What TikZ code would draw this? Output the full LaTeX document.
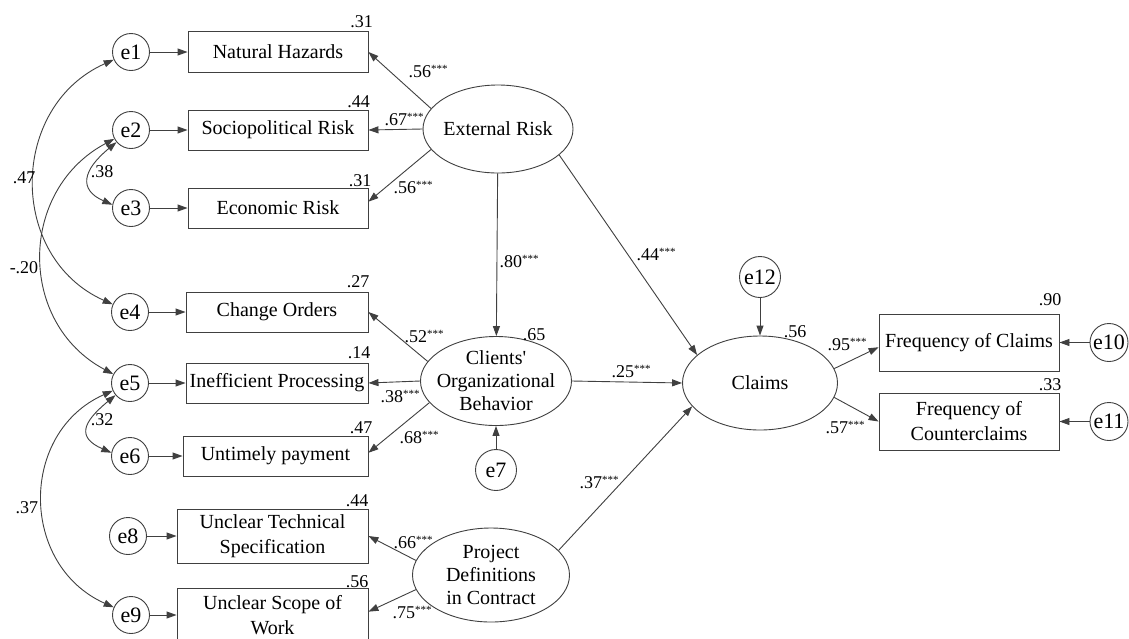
\documentclass[tikz,border=0pt]{standalone}
\usepackage{fontspec}
\setmainfont{Liberation Serif}
\newfontfamily\plainrm{Liberation Serif}[Ligatures=ResetAll]
\usetikzlibrary{shapes.geometric,arrows.meta}
\newcommand\txtf{\fontsize{20}{25}\selectfont}
\newcommand\latf{\fontsize{20}{23}\selectfont}
\newcommand\numf{\fontsize{18}{20}\selectfont}
\newcommand\errf{\fontsize{22}{24}\selectfont}
\newcommand\sg{\raisebox{4.5pt}{\fontsize{11}{11}\selectfont ***}}
\begin{document}
\begin{tikzpicture}[x=1pt,y=-1pt,
  ln/.style={draw=black!75, line width=0.9pt},
  arr/.style={ln, -{Triangle[length=10pt,width=7pt]}},
  cov/.style={ln, {Triangle[length=10pt,width=7pt]}-{Triangle[length=10pt,width=7pt]}},
  obs/.style={draw=black!75, line width=0.9pt, rectangle, inner sep=0pt, align=center, font=\txtf},
  lat/.style={draw=black!75, line width=0.9pt, ellipse, inner sep=0pt},
  lbl/.style={inner sep=0pt, align=center, font=\latf},
  err/.style={draw=black!75, line width=0.9pt, circle, inner sep=0pt, minimum size=37pt, font=\errf},
  errb/.style={err, minimum size=41pt},
  num/.style={inner sep=0pt, anchor=base, font=\numf}]
\useasboundingbox (0,0) rectangle (1129,638);
\fill[white] (0,0) rectangle (1129,638);

% observed boxes
\node[obs, minimum width=180pt, minimum height=41pt] (NH) at (278,52) {Natural Hazards};
\node[obs, minimum width=180pt, minimum height=40pt] (SR) at (278,130) {Sociopolitical Risk};
\node[obs, minimum width=180pt, minimum height=40pt] (EC) at (278,208) {Economic Risk};
\node[obs, minimum width=182pt, minimum height=40pt] (CO) at (277,312) {Change Orders};
\node[obs, minimum width=182pt, minimum height=40pt] (IP) at (277,383) {Inefficient Processing};
\node[obs, minimum width=185pt, minimum height=40pt] (UP) at (275.5,456) {Untimely payment};
\node[obs, minimum width=191pt, minimum height=54pt] (UT) at (272.5,536) {Unclear Technical\\Specification};
\node[obs, minimum width=191pt, minimum height=54pt] (US) at (272.5,615) {Unclear Scope of\\Work};
\node[obs, minimum width=180pt, minimum height=57pt] (FC) at (969,342.5) {Frequency of Claims};
\node[obs, minimum width=180pt, minimum height=57pt] (FCC) at (969,421.5) {Frequency of\\Counterclaims};

% latent ellipses
\node[lat, minimum width=150pt, minimum height=88pt] (ER) at (498,129) {};
\node[lbl] (ERt) at (ER) {External Risk};
\node[lat, minimum width=151pt, minimum height=89pt] (COB) at (496,381) {};
\node[lbl] (COBt) at (COB) {Clients{\plainrm '}\\Organizational\\Behavior};
\node[lat, minimum width=157pt, minimum height=94pt] (PD) at (491,575) {};
\node[lbl] (PDt) at (PD) {Project\\Definitions\\in Contract};
\node[lat, minimum width=155pt, minimum height=94pt] (CL) at (760,383) {};
\node[lbl] (CLt) at (CL) {Claims};

% error terms
\node[err] (e1) at (131,52) {e1};
\node[err] (e2) at (131,130) {e2};
\node[err] (e3) at (131,208) {e3};
\node[err] (e4) at (130,312) {e4};
\node[err] (e5) at (130,383) {e5};
\node[err] (e6) at (130,456) {e6};
\node[err] (e8) at (128,536) {e8};
\node[err] (e9) at (131,615) {e9};
\node[errb] (e7) at (496,470) {e7};
\node[errb] (e12) at (760,277) {e12};
\node[err, minimum size=38pt] (e10) at (1109,342.5) {e10};
\node[err, minimum size=38pt] (e11) at (1109,421.5) {e11};

% error -> indicator
\draw[arr] (e1) -- (NH);
\draw[arr] (e2) -- (SR);
\draw[arr] (e3) -- (EC);
\draw[arr] (e4) -- (CO);
\draw[arr] (e5) -- (IP);
\draw[arr] (e6) -- (UP);
\draw[arr] (e8) -- (UT);
\draw[arr] (e9) -- (US);
\draw[arr] (e10) -- (FC);
\draw[arr] (e11) -- (FCC);
\draw[arr] (e7) -- (COB);
\draw[arr] (e12) -- (CL);

% loadings
\draw[arr] (ER.163) -- (NH.east);
\draw[arr] (ER.west) -- (SR.east);
\draw[arr] (ER.197) -- (EC.4);
\draw[arr] (COB.164) -- (CO.east);
\draw[arr] (COB.west) -- (IP.east);
\draw[arr] (COB.198) -- (UP.2);
\draw[arr] (PD.169) -- (UT.east);
\draw[arr] (PD.191) -- (US.2);
\draw[arr] (CL.11) -- (FC.183);
\draw[arr] (CL.349) -- (FCC.west);

% structural paths
\draw[arr] (ER) -- (COB);
\draw[arr] (ER.337) -- (CL.156);
\draw[arr] (COB.east) -- (CL.west);
\draw[arr] (PD.20) -- (CL.199);

% covariances
\draw[cov] (e1.204) .. controls +(-105,47) and +(-105,-47) .. (e4.156);
\draw[cov] (e2.208) .. controls +(-96,51) and +(-96,-51) .. (e5.152);
\draw[cov] (e5.204) .. controls +(-94,42) and +(-94,-42) .. (e9.156);
\draw[cov] (e2.220) .. controls +(-34,28) and +(-34,-15) .. (e3.170);
\draw[cov] (e5.220) .. controls +(-34,28) and +(-34,-15) .. (e6.170);

% R-squared
\node[num] (r1) at (361.5,27) {.31};
\node[num] (r2) at (358.5,107) {.44};
\node[num] (r3) at (360,186) {.31};
\node[num] (r4) at (358,287) {.27};
\node[num] (r5) at (359,358) {.14};
\node[num] (r6) at (361,433) {.47};
\node[num] (r7) at (357,506) {.44};
\node[num] (r8) at (357,587) {.56};
\node[num] (r9) at (1050,305) {.90};
\node[num] (r10) at (1050,390) {.33};
\node[num] (r11) at (795,337) {.56};
\node[num] (r12) at (534,340) {.65};

% path coefficients
\node[num] (p1) at (428,77) {.56\sg};
\node[num] (p2) at (404,125) {.67\sg};
\node[num] (p3) at (413,193) {.56\sg};
\node[num] (p4) at (519,267) {.80\sg};
\node[num] (p5) at (656,260) {.44\sg};
\node[num] (p6) at (424,342) {.52\sg};
\node[num] (p7) at (400,402) {.38\sg};
\node[num] (p8) at (419,443) {.68\sg};
\node[num] (p9) at (631,377) {.25\sg};
\node[num] (p10) at (599,488) {.37\sg};
\node[num] (p11) at (413,548) {.66\sg};
\node[num] (p12) at (412,618) {.75\sg};
\node[num] (p13) at (847,350) {.95\sg};
\node[num] (p14) at (845,433) {.57\sg};

% covariance values
\node[num] (c1) at (24,183) {.47};
\node[num] (c2) at (24,273) {-.20};
\node[num] (c3) at (102,177) {.38};
\node[num] (c4) at (102,425) {.32};
\node[num] (c5) at (27,513) {.37};
\end{tikzpicture}
\end{document}
